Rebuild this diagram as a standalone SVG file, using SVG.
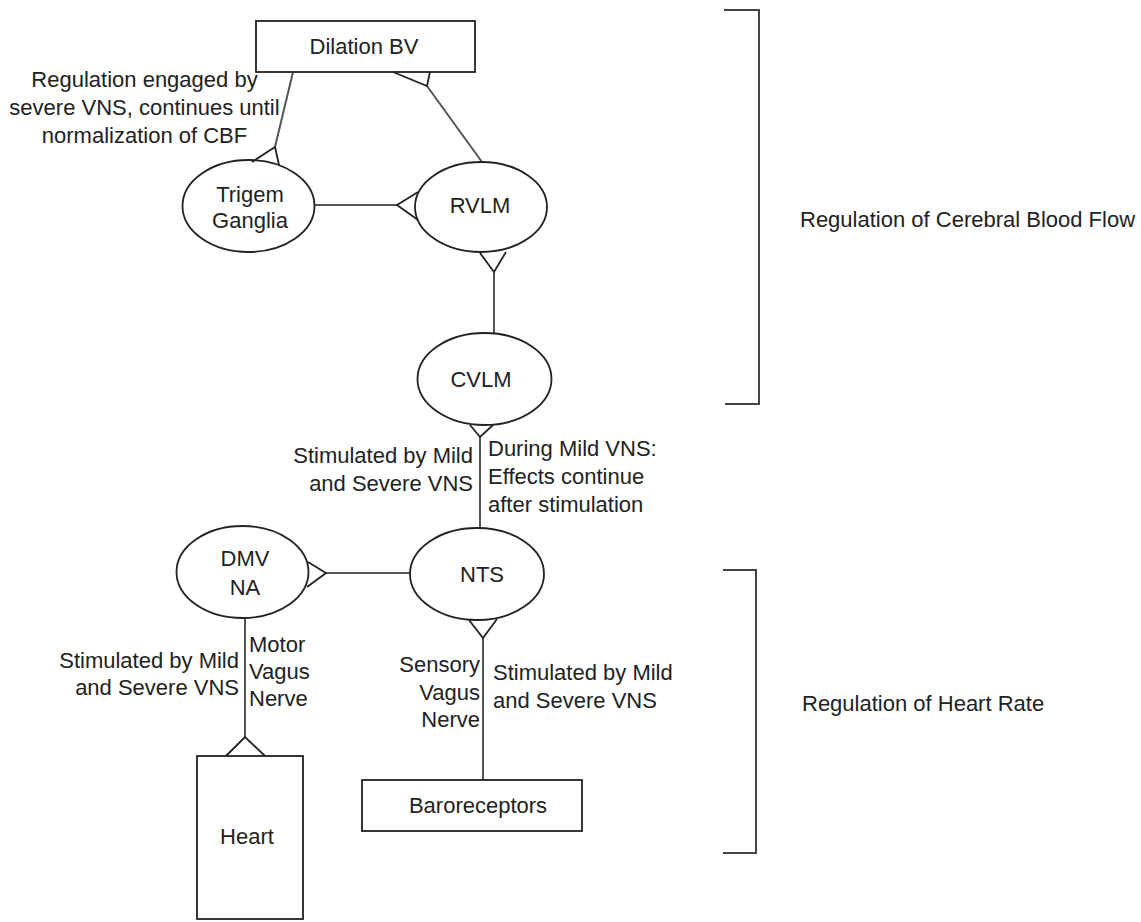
<svg xmlns="http://www.w3.org/2000/svg" width="1141" height="922" viewBox="0 0 1141 922">
<style>
.shape{fill:#fff;stroke:#222;stroke-width:1.8}
.conn{fill:none;stroke:#555;stroke-width:2}
.tri{fill:none;stroke:#222;stroke-width:1.8;stroke-linejoin:miter}
.br{fill:none;stroke:#444;stroke-width:2}
text{font-family:"Liberation Sans",Arial,sans-serif;font-size:22px;fill:#222}
.c{text-anchor:middle}
.r{text-anchor:end}
</style>
<rect width="1141" height="922" fill="#fff"/>
<g id="connectors">
<line class="conn" x1="293" y1="72" x2="275" y2="147"/>
<line class="conn" x1="427" y1="86" x2="482" y2="162"/>
<line class="conn" x1="315" y1="205" x2="397" y2="205"/>
<line class="conn" x1="494" y1="272" x2="494" y2="333"/>
<line class="conn" x1="480" y1="437" x2="480" y2="528"/>
<line class="conn" x1="326" y1="573" x2="410" y2="573"/>
<line class="conn" x1="483" y1="638" x2="483" y2="780"/>
<line class="conn" x1="245" y1="618" x2="245" y2="737"/>
</g>
<g id="node-dilation">
<rect class="shape" x="256" y="21" width="219" height="51"/>
<text class="c" x="364" y="54">Dilation BV</text>
</g>
<g id="node-trigem">
<ellipse class="shape" cx="248.5" cy="206" rx="66" ry="46"/>
<text class="c" x="250" y="202">Trigem</text>
<text class="c" x="250" y="228">Ganglia</text>
</g>
<g id="node-rvlm">
<ellipse class="shape" cx="481" cy="207" rx="66" ry="45"/>
<text class="c" x="480" y="213">RVLM</text>
</g>
<g id="node-cvlm">
<ellipse class="shape" cx="484.5" cy="379" rx="67" ry="46"/>
<text class="c" x="481" y="387">CVLM</text>
</g>
<g id="node-dmv">
<ellipse class="shape" cx="242.5" cy="572" rx="66" ry="46"/>
<text class="c" x="245" y="566">DMV</text>
<text class="c" x="245" y="595">NA</text>
</g>
<g id="node-nts">
<ellipse class="shape" cx="477" cy="574" rx="67" ry="46"/>
<text class="c" x="482" y="582">NTS</text>
</g>
<g id="node-heart">
<rect class="shape" x="197" y="756" width="106" height="163"/>
<text class="c" x="247" y="844">Heart</text>
</g>
<g id="node-baroreceptors">
<rect class="shape" x="362" y="780" width="220" height="51"/>
<text class="c" x="478" y="813">Baroreceptors</text>
</g>
<g id="markers">
<polyline class="tri" points="252,162 275,147 279,165"/>
<polyline class="tri" points="393,72 427,86 430,72"/>
<polyline class="tri" points="418,192 397,205 418,220"/>
<polyline class="tri" points="480,253 494,272 506,252"/>
<polyline class="tri" points="470,425 480,437 493,425"/>
<polyline class="tri" points="308,562 326,573 307,587"/>
<polyline class="tri" points="469,620 483,638 497,619"/>
<polyline class="tri" points="226,756 245,737 265,756"/>
</g>
<g id="labels">
<text class="c" x="144.5" y="87">Regulation engaged by</text>
<text class="c" x="144.5" y="115">severe VNS, continues until</text>
<text class="c" x="144.5" y="143">normalization of CBF</text>
<text class="r" x="473" y="463">Stimulated by Mild</text>
<text class="r" x="473" y="491">and Severe VNS</text>
<text x="488" y="456">During Mild VNS:</text>
<text x="488" y="484">Effects continue</text>
<text x="488" y="512">after stimulation</text>
<text class="r" x="239" y="668">Stimulated by Mild</text>
<text class="r" x="239" y="695">and Severe VNS</text>
<text x="249" y="652">Motor</text>
<text x="249" y="679">Vagus</text>
<text x="249" y="706">Nerve</text>
<text class="r" x="480" y="672">Sensory</text>
<text class="r" x="480" y="700">Vagus</text>
<text class="r" x="480" y="727">Nerve</text>
<text x="493" y="680">Stimulated by Mild</text>
<text x="493" y="708">and Severe VNS</text>
</g>
<g id="brackets">
<polyline class="br" points="724,10 759,10 759,404 725,404"/>
<text x="800" y="227">Regulation of Cerebral Blood Flow</text>
<polyline class="br" points="723,570 756,570 756,853 723,853"/>
<text x="802" y="711">Regulation of Heart Rate</text>
</g>
</svg>
